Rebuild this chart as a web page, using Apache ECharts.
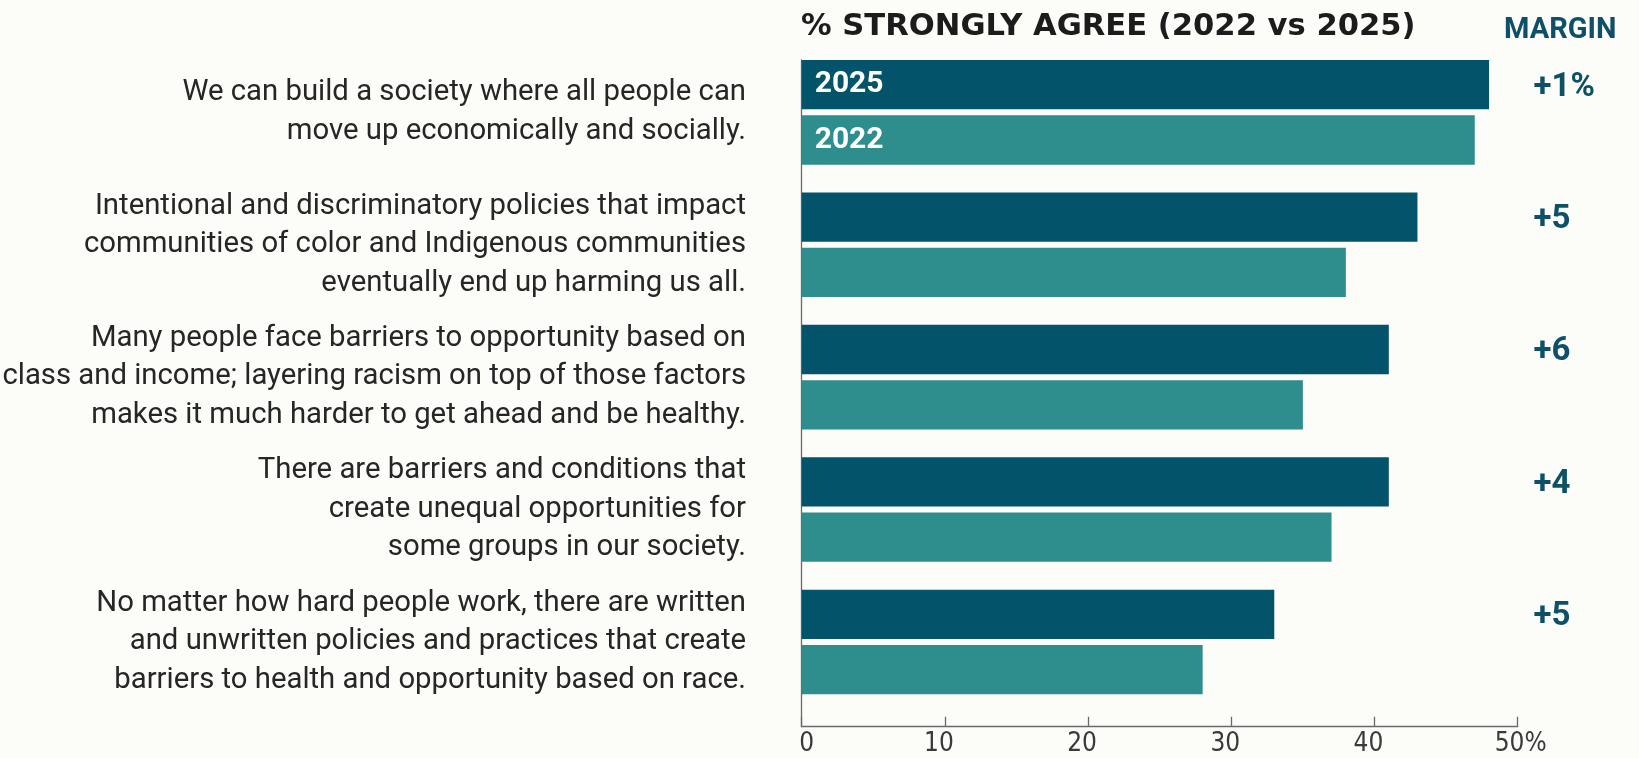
<!DOCTYPE html>
<html>
<head>
<meta charset="utf-8">
<script src="https://cdn.jsdelivr.net/npm/echarts@6/dist/echarts.min.js"></script>
<style>
  html, body { margin: 0; padding: 0; background: #fcfcf9; }
  #chart { width: 1639px; height: 758px; }
</style>
</head>
<body>
<div id="chart"></div>
<script>
// Survey statements, top to bottom
const categories = [
  'We can build a society where all people can\nmove up economically and socially.',
  'Intentional and discriminatory policies that impact\ncommunities of color and Indigenous communities\neventually end up harming us all.',
  'Many people face barriers to opportunity based on\nclass and income; layering racism on top of those factors\nmakes it much harder to get ahead and be healthy.',
  'There are barriers and conditions that\ncreate unequal opportunities for\nsome groups in our society.',
  'No matter how hard people work, there are written\nand unwritten policies and practices that create\nbarriers to health and opportunity based on race.'
];
// % strongly agree
const values2025 = [48, 43, 41, 41, 33];
const values2022 = [47, 38, 35, 37, 28];
// Change from 2022 to 2025
const margins = ['+1%', '+5', '+6', '+4', '+5'];
// Value axis tick labels (0..50 by 10)
const tickLabels = ['0', '10', '20', '30', '40', '50%'];

const DARK = '#03536a';
const TEAL = '#2e8e8e';
const TEXT_FONT = 'Roboto';
const TICK_FONT = 'DejaVu Sans Condensed, Roboto, sans-serif';

const chart = echarts.init(document.getElementById('chart'), null, { renderer: 'canvas' });

const X_LEFT = 801.7;
const X_RIGHT = 1639 - 1517.7;

const inBarLabel = {
  show: true,
  position: 'insideLeft',
  distance: 13,
  color: '#ffffff',
  fontFamily: TEXT_FONT,
  fontWeight: 'bold',
  fontSize: 30,
  formatter: p => (p.dataIndex === 0 ? p.seriesName : '')
};

const tickStyle = { fontFamily: TICK_FONT, fontSize: 26, color: '#3a3a3a' };

chart.setOption({
  backgroundColor: '#fcfcf9',
  animation: false,
  title: [
    {
      text: '% STRONGLY AGREE (2022 vs 2025)',
      left: 801,
      top: 9,
      padding: 0,
      textStyle: { fontFamily: 'DejaVu Sans', fontWeight: 'bold', fontSize: 30.6, color: '#1c1c1c', lineHeight: 36 }
    },
    {
      text: 'MARGIN',
      left: 1504,
      top: 14,
      padding: 0,
      textStyle: { fontFamily: TEXT_FONT, fontWeight: 'bold', fontSize: 29, color: '#0d5068', lineHeight: 34 }
    }
  ],
  grid: [
    { left: X_LEFT, right: X_RIGHT, top: 46.15, height: 662, containLabel: false, outerBoundsMode: 'none' },
    { left: X_LEFT, right: X_RIGHT, top: 60, bottom: 31.3, containLabel: false, outerBoundsMode: 'none' }
  ],
  xAxis: [
    { gridIndex: 0, type: 'value', min: 0, max: 50, show: false },
    {
      gridIndex: 1, type: 'value', min: 0, max: 50, interval: 10,
      axisLine: { show: true, onZero: false, lineStyle: { color: '#6a6a6a', width: 1.3 } },
      axisTick: { show: true, inside: true, length: 10, lineStyle: { color: '#6a6a6a', width: 1.3 } },
      splitLine: { show: false },
      axisLabel: {
        margin: 5,
        formatter: v => {
          const t = tickLabels[Math.round(v / 10)];
          if (v === 0) return '{z|' + t + '}';
          if (v === 50) return '{p|' + t + '}';
          return '{n|' + t + '}';
        },
        rich: {
          z: Object.assign({ padding: [0, 0, 0, 10] }, tickStyle),
          n: Object.assign({ padding: [0, 12, 0, 0] }, tickStyle),
          p: Object.assign({ padding: [0, 0, 0, 6] }, tickStyle)
        }
      }
    }
  ],
  yAxis: [
    {
      gridIndex: 0, type: 'category', inverse: true, data: categories,
      axisLine: { show: false }, axisTick: { show: false }, splitLine: { show: false },
      axisLabel: {
        margin: 55.7, align: 'right',
        fontFamily: TEXT_FONT, fontSize: 29.3, lineHeight: 38.5, color: '#262626'
      }
    },
    {
      gridIndex: 0, type: 'category', inverse: true, position: 'right', data: margins,
      axisLine: { show: false }, axisTick: { show: false }, splitLine: { show: false },
      axisLabel: {
        margin: 15.8, align: 'left', verticalAlign: 'bottom',
        lineHeight: 34, padding: [0, 0, 8, 0],
        fontFamily: TEXT_FONT, fontWeight: 'bold', fontSize: 33, color: '#0d5068'
      }
    },
    {
      gridIndex: 1, type: 'value', min: 0, max: 1,
      axisLine: { show: true, lineStyle: { color: '#6a6a6a', width: 1.3 } },
      axisTick: { show: false }, axisLabel: { show: false }, splitLine: { show: false }
    }
  ],
  series: [
    {
      name: '2025', type: 'bar', xAxisIndex: 0, yAxisIndex: 0,
      data: values2025, barWidth: 49.3, barGap: '12.2%',
      itemStyle: { color: DARK },
      label: inBarLabel
    },
    {
      name: '2022', type: 'bar', xAxisIndex: 0, yAxisIndex: 0,
      data: values2022, barWidth: 49.3, barGap: '12.2%',
      itemStyle: { color: TEAL },
      label: inBarLabel
    }
  ]
});
</script>
</body>
</html>
